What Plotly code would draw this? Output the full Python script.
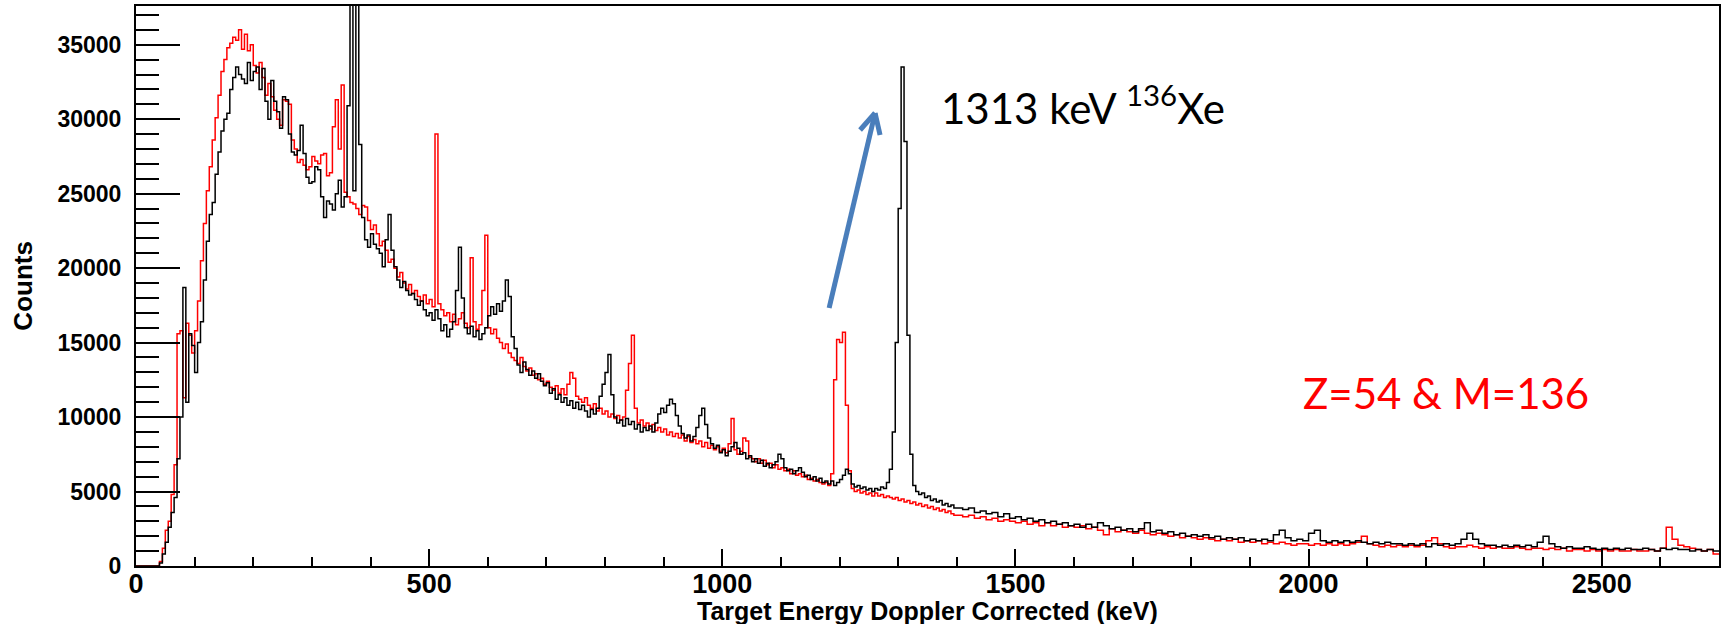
import plotly.graph_objects as go

# ---------------- data (counts in thousands) ----------------
# fine bins: 5 keV wide from 0 to 1400 keV (20 bins per row = 100 keV)
red_fine_k = [
    0, 0, 0, 0, 0, 0, 0, 0, 0.3, 1.2, 2.4, 3.0, 4.8, 6.8, 15.6, 15.8, 11.3, 16.3, 15.5, 14.3,
    15.8, 17.8, 20.5, 23.0, 25.2, 26.8, 28.6, 30.1, 31.6, 33.2, 34.0, 34.8, 35.1, 35.5, 35.3, 36.0, 34.7, 35.7, 34.6, 35.0,
    33.6, 33.1, 33.8, 32.8, 31.6, 32.4, 31.5, 30.6, 30.0, 29.6, 31.3, 31.2, 31.0, 28.6, 28.0, 27.1, 27.3, 26.9, 26.6, 26.8,
    27.5, 27.2, 27.0, 27.6, 27.7, 26.2, 26.4, 29.5, 31.3, 28.0, 32.3, 25.1, 24.8, 24.4, 24.3, 24.0, 23.6, 24.2, 24.1, 23.2,
    22.6, 22.9, 22.3, 21.5, 21.8, 21.2, 20.4, 20.6, 20.0, 19.4, 19.7, 19.0, 18.6, 18.9, 18.3, 18.5, 18.1, 17.8, 18.2, 17.6,
    17.9, 17.4, 29.0, 17.6, 17.2, 16.8, 17.0, 16.4, 16.9, 16.2, 16.6, 17.0, 16.3, 16.0, 20.7, 16.4, 15.9, 16.2, 18.5, 22.2,
    16.0, 15.6, 15.9, 15.3, 15.0, 14.6, 14.9, 14.3, 14.0, 13.8, 13.6, 14.0, 13.4, 13.1, 13.3, 12.8, 12.9, 12.5, 12.6, 12.2,
    12.4, 12.0, 11.8, 12.1, 11.6, 11.9, 11.5, 12.2, 13.0, 12.6, 11.4, 11.2, 11.0, 11.3, 10.8, 10.6, 10.9, 10.4, 10.6, 10.2,
    10.4, 10.0, 10.2, 9.9, 10.1, 9.8, 10.0, 11.8, 13.6, 15.5, 10.6, 9.6, 9.8, 9.4, 9.6, 9.2, 9.5, 9.1, 9.3, 9.0,
    9.2, 8.8, 9.0, 8.7, 8.9, 8.6, 8.8, 8.4, 8.7, 8.3, 8.5, 8.2, 8.4, 8.0, 8.3, 7.9, 8.1, 7.8, 8.0, 7.7,
    7.9, 7.6, 8.2, 9.9, 7.8, 7.5, 7.7, 8.6, 8.4, 7.3, 7.2, 7.0, 7.2, 6.9, 7.1, 6.8, 6.9, 6.6, 6.8, 6.5,
    6.6, 6.4, 6.5, 6.2, 6.4, 6.1, 6.2, 6.0, 6.1, 5.8, 5.9, 5.7, 5.8, 5.6, 5.5, 5.6, 5.4, 6.2, 12.5, 15.2,
    15.0, 15.7, 10.8, 6.4, 5.2, 5.0, 5.1, 4.9, 5.0, 4.8, 4.9, 4.7, 4.9, 4.7, 4.8, 4.6, 4.7, 4.6, 4.5, 4.6,
    4.4, 4.5, 4.3, 4.4, 4.2, 4.3, 4.1, 4.2, 4.0, 4.1, 3.9, 4.0, 3.8, 3.9, 3.7, 3.8, 3.6, 3.7, 3.5, 3.4,
]
# coarse bins: 10 keV wide from 1400 to 2700 keV (10 bins per row = 100 keV)
red_coarse_k = [
    3.4, 3.3, 3.4, 3.2, 3.3, 3.1, 3.2, 3.0, 3.1, 3.0,
    2.9, 3.0, 2.8, 2.9, 2.7, 2.9, 2.7, 2.8, 2.6, 2.7,
    2.6, 2.7, 2.5, 2.6, 2.4, 2.1, 2.5, 2.3, 2.4, 2.3,
    2.2, 2.4, 2.2, 2.1, 2.2, 2.1, 2.0, 2.1, 1.9, 2.0,
    1.9, 1.8, 1.9, 1.8, 1.7, 1.8, 1.7, 1.8, 1.6, 1.7,
    1.6, 1.7, 1.5, 1.6, 1.5, 1.6, 1.5, 1.4, 1.5, 1.5,
    1.4, 1.5, 1.4, 1.5, 1.4, 1.5, 1.4, 1.5, 1.6, 2.0,
    1.5, 1.4, 1.3, 1.4, 1.3, 1.4, 1.3, 1.4, 1.3, 1.4,
    1.7, 1.9, 1.5, 1.3, 1.2, 1.3, 1.3, 1.4, 1.3, 1.2,
    1.3, 1.2, 1.3, 1.2, 1.2, 1.3, 1.2, 1.1, 1.2, 1.2,
    1.1, 1.2, 1.1, 1.2, 1.0, 1.1, 1.1, 1.0, 1.1, 1.0,
    1.1, 1.0, 1.1, 1.0, 1.0, 1.1, 1.0, 1.0, 1.1, 1.0,
    1.2, 2.6, 1.8, 1.4, 1.3, 1.2, 1.1, 1.0, 1.1, 0.8,
]
black_fine_k = [
    0, 0, 0, 0, 0, 0, 0, 0, 0.2, 0.8, 1.6, 2.6, 3.6, 4.6, 7.2, 10.0, 18.7, 11.0, 15.6, 14.8,
    13.0, 15.0, 16.4, 19.2, 21.8, 23.6, 24.4, 26.3, 27.8, 29.2, 30.0, 30.4, 32.0, 32.8, 33.5, 33.0, 32.7, 32.4, 33.8, 32.6,
    33.2, 33.5, 32.0, 33.4, 31.2, 30.0, 32.6, 31.2, 30.5, 29.4, 31.5, 31.3, 29.0, 27.8, 27.6, 27.9, 29.6, 27.7, 26.1, 25.7,
    25.8, 26.8, 26.6, 24.8, 23.4, 24.5, 24.3, 23.9, 25.0, 25.9, 24.1, 24.8, 30.9, 46.0, 25.2, 50.0, 28.3, 23.4, 21.9, 21.4,
    22.3, 21.6, 21.3, 21.0, 20.1, 21.9, 23.6, 21.2, 20.1, 19.2, 18.7, 19.1, 18.5, 18.2, 18.3, 17.9, 17.5, 17.8, 17.2, 16.8,
    17.0, 16.5, 17.2, 16.6, 15.8, 16.2, 15.4, 15.9, 16.4, 18.5, 21.4, 18.0, 16.0, 15.6, 16.1, 15.4, 15.8, 15.2, 15.6, 16.0,
    16.8, 17.4, 16.9, 17.6, 17.1, 17.8, 19.2, 18.1, 15.4, 14.6, 13.5, 13.0, 13.7, 13.2, 12.8, 13.1, 12.6, 12.9, 12.4, 12.1,
    12.3, 11.6, 11.9, 11.2, 11.5, 11.0, 11.3, 10.8, 11.1, 10.6, 11.0, 10.5, 10.8, 10.4, 10.0, 10.5, 10.2, 10.6, 11.4, 12.2,
    13.0, 14.2, 11.5, 10.0, 9.6, 9.8, 9.4, 9.9, 9.5, 9.7, 9.2, 9.5, 9.0, 9.3, 9.1, 9.4, 9.0, 9.6, 10.2, 10.6,
    10.3, 10.8, 11.2, 10.9, 10.1, 9.4, 8.9, 8.6, 8.8, 8.4, 8.7, 9.3, 10.1, 10.6, 9.5, 8.6, 8.2, 7.9, 8.1, 7.6,
    7.8, 7.4, 7.7, 8.0, 8.3, 7.9, 7.5, 7.6, 7.2, 7.4, 7.0, 7.2, 6.9, 7.1, 6.7, 6.9, 6.6, 6.8, 7.0, 7.5,
    7.2, 6.6, 6.4, 6.5, 6.2, 6.4, 6.6, 6.3, 6.0, 6.1, 5.8, 6.0, 5.7, 5.9, 5.6, 5.7, 5.5, 5.7, 5.4, 5.6,
    5.8, 6.1, 6.5, 6.2, 5.5, 5.3, 5.4, 5.2, 5.3, 5.1, 5.2, 5.0, 5.2, 5.1, 5.3, 5.2, 5.6, 6.5, 9.0, 15.0,
    24.0, 33.5, 28.5, 15.5, 7.5, 5.4, 5.0, 4.8, 4.9, 4.6, 4.7, 4.4, 4.5, 4.3, 4.4, 4.1, 4.2, 4.0, 4.1, 3.9,
]
black_coarse_k = [
    3.9, 3.8, 3.9, 3.6, 3.7, 3.5, 3.6, 3.3, 3.5, 3.2,
    3.3, 3.1, 3.2, 3.0, 3.1, 2.9, 3.0, 2.8, 2.9, 2.7,
    2.8, 2.6, 2.8, 2.6, 2.9, 2.7, 2.5, 2.6, 2.4, 2.5,
    2.3, 2.5, 2.9, 2.3, 2.4, 2.2, 2.3, 2.1, 2.2, 2.0,
    2.1, 2.0, 2.1, 1.9, 2.0, 1.8, 1.9, 1.8, 1.9, 1.7,
    1.8, 1.7, 1.8, 1.7, 2.1, 2.4, 1.9, 1.7, 1.8, 1.7,
    2.2, 2.4, 1.7, 1.6, 1.7, 1.6, 1.7, 1.6, 1.7, 1.6,
    1.5, 1.6, 1.5, 1.6, 1.5, 1.5, 1.4, 1.5, 1.4, 1.5,
    1.3, 1.5, 1.4, 1.5, 1.4, 1.5, 1.8, 2.2, 1.8, 1.5,
    1.4, 1.4, 1.3, 1.4, 1.3, 1.4, 1.3, 1.4, 1.3, 1.6,
    2.0, 1.5, 1.3, 1.2, 1.3, 1.2, 1.2, 1.3, 1.2, 1.1,
    1.2, 1.1, 1.2, 1.1, 1.2, 1.1, 1.1, 1.2, 1.1, 1.0,
    1.2, 1.1, 1.2, 1.1, 1.1, 1.0, 1.1, 1.0, 1.1, 1.0,
]

x_tick_vals = [0, 500, 1000, 1500, 2000, 2500]
y_tick_vals = [0, 5000, 10000, 15000, 20000, 25000, 30000, 35000]

x_title = "Target Energy Doppler Corrected (keV)"
y_title = "Counts"
label_peak = "1313 keV <sup>136</sup>Xe"
label_gate = "Z=54 & M=136"

# ---------------- histogram bin edges ----------------
edges = list(range(0, 1400, 5)) + list(range(1400, 2700, 10)) + [2700]

def step_y(vals_k):
    c = [v * 1000 for v in vals_k]
    return c + [c[-1]]

red_y = step_y(red_fine_k + red_coarse_k)
black_y = step_y(black_fine_k + black_coarse_k)

# ---------------- geometry (pixels) ----------------
W, H = 1724, 624
L, R, T, B = 136, 3, 6, 58
PW, PH = W - L - R, H - T - B

def px(x):
    return (x - L) / PW

def py(y):
    return (H - B - y) / PH

fig = go.Figure()
fig.add_trace(go.Scatter(x=edges, y=red_y, mode="lines", line=dict(color="#ff0000", width=1.5, shape="hv"),
                         hoverinfo="skip", name="Z=54 & M=136"))
fig.add_trace(go.Scatter(x=edges, y=black_y, mode="lines", line=dict(color="#000000", width=1.5, shape="hv"),
                         hoverinfo="skip", name="all"))

tickfont_x = dict(family="Liberation Sans", size=27, color="black", weight="bold")
tickfont_y = dict(family="Liberation Sans", size=23, color="black", weight="bold")

fig.update_layout(
    width=W, height=H, margin=dict(l=L, r=R, t=T, b=B),
    paper_bgcolor="white", plot_bgcolor="white", showlegend=False,
    xaxis=dict(range=[0, 2700], tickvals=x_tick_vals, ticks="inside", ticklen=17, tickwidth=1.5,
               tickcolor="black", minor=dict(dtick=100, tick0=0, ticks="inside", ticklen=9, tickwidth=1.5,
                                             tickcolor="black", showgrid=False),
               showgrid=False, zeroline=False, showline=True, linewidth=2, linecolor="black", mirror=True,
               tickfont=tickfont_x, tickformat="d", ticklabelstandoff=-7),
    yaxis=dict(range=[0, 37600], tickvals=y_tick_vals, ticks="inside", ticklen=44, tickwidth=1.5,
               tickcolor="black", minor=dict(dtick=1000, tick0=0, ticks="inside", ticklen=23, tickwidth=1.5,
                                             tickcolor="black", showgrid=False),
               showgrid=False, zeroline=False, showline=True, linewidth=2, linecolor="black", mirror=True,
               tickfont=tickfont_y, tickformat="d", ticklabelstandoff=8),
)

fig.add_annotation(text=x_title, xref="paper", yref="paper", x=0.5, y=py(611), xanchor="center",
                   yanchor="middle", showarrow=False,
                   font=dict(family="Liberation Sans", size=25, color="black", weight="bold"))
fig.add_annotation(text=y_title, xref="paper", yref="paper", x=px(22.5), y=0.5, xanchor="center",
                   yanchor="middle", textangle=-90, showarrow=False,
                   font=dict(family="Liberation Sans", size=26, color="black", weight="bold"))
fig.add_annotation(text=label_peak, xref="paper", yref="paper", x=px(940), y=py(105), xanchor="left",
                   yanchor="middle", showarrow=False, font=dict(family="Lato", size=42, color="black"))
fig.add_annotation(text=label_gate, xref="paper", yref="paper", x=px(1302), y=py(393), xanchor="left",
                   yanchor="middle", showarrow=False, font=dict(family="Lato", size=42, color="#ff0000"))

# blue arrow pointing to the peak label
arrow_col = "#4A7EBB"
tail, tip = (830, 308), (876, 113)
arm1, arm2 = (861, 130), (881, 135)
for a, b in [(tail, tip), (arm1, tip), (arm2, tip)]:
    fig.add_shape(type="line", xref="paper", yref="paper", x0=px(a[0]), y0=py(a[1]), x1=px(b[0]), y1=py(b[1]),
                  line=dict(color=arrow_col, width=5), layer="above")

fig.write_html("out.html")
